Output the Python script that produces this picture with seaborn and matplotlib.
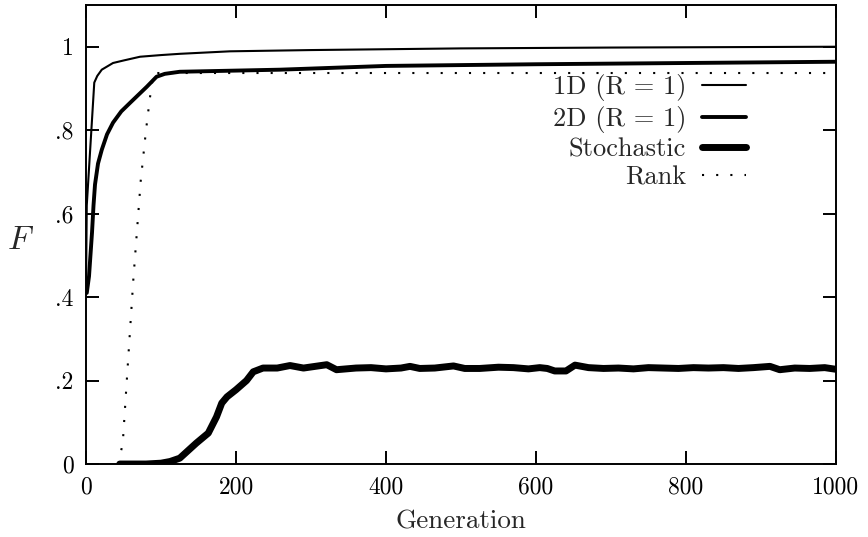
import matplotlib
matplotlib.use('Agg')
import matplotlib.pyplot as plt
import seaborn as sns
import pandas as pd

# values
gen_1d = [0, 1, 11, 15, 21, 36, 50, 72, 100, 125, 192, 300, 500, 700, 1000]
f_1d = [0.42, 0.62, 0.914, 0.93, 0.945, 0.961, 0.967, 0.976, 0.980, 0.983, 0.989, 0.992, 0.996, 0.998, 1.0]

gen_2d = [1, 4, 8, 10, 12, 16, 21, 28, 36, 47, 59, 70, 81, 94, 105, 125, 259, 400, 600, 800, 1000]
f_2d = [0.41, 0.45, 0.555, 0.62, 0.67, 0.72, 0.753, 0.79, 0.818, 0.845, 0.866, 0.885, 0.904,
        0.928, 0.935, 0.940, 0.945, 0.954, 0.958, 0.961, 0.964]

gen_sto = [45, 80, 100, 112, 125, 147, 163, 174, 181, 188, 200, 214, 223, 236, 255, 272, 290,
           321, 334, 360, 380, 400, 420, 432, 445, 465, 490, 505, 525, 550, 570, 590, 605,
           615, 625, 640, 652, 670, 690, 710, 730, 750, 770, 790, 810, 830, 850, 870, 890,
           912, 925, 945, 965, 985, 1000]
f_sto = [0.0, 0.0, 0.002, 0.006, 0.014, 0.05, 0.074, 0.113, 0.146, 0.161, 0.178, 0.2, 0.221,
         0.230, 0.230, 0.236, 0.230, 0.238, 0.226, 0.230, 0.231, 0.228, 0.230, 0.234, 0.229,
         0.230, 0.235, 0.229, 0.229, 0.232, 0.231, 0.228, 0.231, 0.229, 0.223, 0.223, 0.237,
         0.231, 0.229, 0.230, 0.228, 0.231, 0.230, 0.229, 0.231, 0.230, 0.231, 0.229, 0.231,
         0.234, 0.226, 0.230, 0.229, 0.231, 0.227]

gen_rank = [43, 49, 54, 63, 73, 80, 85, 90, 1000]
f_rank = [0.0, 0.05, 0.19, 0.44, 0.68, 0.80, 0.875, 0.937, 0.937]

y_ticks = [0, 0.2, 0.4, 0.6, 0.8, 1.0]
y_tick_labels = ['0', '.2', '.4', '.6', '.8', '1']
x_ticks = [0, 200, 400, 600, 800, 1000]

sns.set_style('ticks')
plt.rcParams['font.family'] = ['cmr10', 'DejaVu Serif']
plt.rcParams['mathtext.fontset'] = 'cm'
plt.rcParams['axes.unicode_minus'] = False

fig = plt.figure(figsize=(8.68, 5.37), dpi=100)
ax = fig.add_axes([0.0991, 0.1359, 0.8640, 0.8548])

series = [
    ('1D (R = 1)', gen_1d, f_1d, dict(lw=1.5, ls='-')),
    ('2D (R = 1)', gen_2d, f_2d, dict(lw=2.8, ls='-')),
    ('Stochastic', gen_sto, f_sto, dict(lw=5.0, ls='-')),
    ('Rank', gen_rank, f_rank, dict(lw=1.5, ls=(0, (1, 5.8)))),
]
for name, g, f, style in series:
    df = pd.DataFrame({'Generation': g, 'F': f})
    sns.lineplot(data=df, x='Generation', y='F', ax=ax, color='black', label=name,
                 linewidth=style['lw'], linestyle=style['ls'], solid_joinstyle='round')

ax.set_xlim(0, 1000)
ax.set_ylim(0, 1.1)
ax.set_xticks(x_ticks)
ax.set_xticklabels([str(t) for t in x_ticks])
ax.set_yticks(y_ticks)
ax.set_yticklabels(y_tick_labels)
ax.tick_params(direction='in', length=9.5, width=1.4, top=True, right=True,
               labelsize=17, pad=9, colors='black')
for sp in ax.spines.values():
    sp.set_visible(True)
    sp.set_linewidth(1.4)
    sp.set_color('black')

ax.set_xlabel('Generation', fontsize=19.5, labelpad=8)
ax.set_ylabel('$F$', fontsize=24, rotation=0)
ax.yaxis.set_label_coords(-0.088, 0.455)

leg = ax.legend(loc='upper right', bbox_to_anchor=(746 / 868, 1 - 74 / 537),
                bbox_transform=fig.transFigure, frameon=False, markerfirst=False,
                fontsize=19, handlelength=1.65, handletextpad=0.62, labelspacing=0.18,
                borderpad=0, borderaxespad=0)
for t in leg.get_texts():
    t.set_ha('right')

fig.savefig('out.png', dpi=100, facecolor='white')
